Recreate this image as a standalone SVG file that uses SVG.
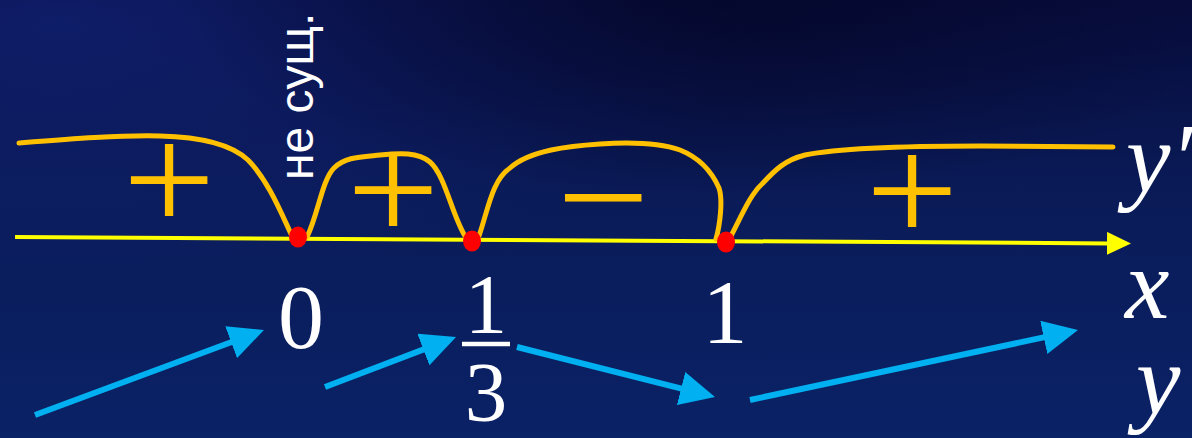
<svg xmlns="http://www.w3.org/2000/svg" width="1192" height="438" viewBox="0 0 1192 438">
  <defs>
    <linearGradient id="bg" x1="0" y1="0" x2="0" y2="1">
      <stop offset="0" stop-color="#070c3c"/>
      <stop offset="0.45" stop-color="#0a1b58"/>
      <stop offset="1" stop-color="#0a2266"/>
    </linearGradient>
    <radialGradient id="glowL" cx="0.05" cy="0.05" r="0.6">
      <stop offset="0" stop-color="#12247a" stop-opacity="0.7"/>
      <stop offset="1" stop-color="#12247a" stop-opacity="0"/>
    </radialGradient>
    <radialGradient id="darkM" cx="0.6" cy="0" r="0.45">
      <stop offset="0" stop-color="#040626" stop-opacity="0.7"/>
      <stop offset="1" stop-color="#040626" stop-opacity="0"/>
    </radialGradient>
    <marker id="blueHead" markerUnits="userSpaceOnUse" markerWidth="35" markerHeight="34" viewBox="0 0 35 34" refX="25" refY="17" orient="auto">
      <path d="M0,0 L35,17 L0,34 z" fill="#00B0F0"/>
    </marker>
    <marker id="axisHead" markerUnits="userSpaceOnUse" markerWidth="24" markerHeight="23" viewBox="0 0 24 23" refX="3" refY="11.5" orient="auto">
      <path d="M0,0 L24,11.5 L0,23 z" fill="#FFFF00"/>
    </marker>
    <style>
      .curve { fill: none; stroke: #FFC000; stroke-width: 5; stroke-linecap: round; stroke-linejoin: round; }
      .sign { font-family: "Liberation Serif", "Times New Roman", serif; font-size: 155px; fill: #FFC000; text-anchor: middle; }
      .num { font-family: "Liberation Serif", "Times New Roman", serif; fill: #FFFFFF; text-anchor: middle; }
      .var { font-family: "Liberation Serif", "Times New Roman", serif; font-style: italic; font-size: 100px; fill: #FFFFFF; }
      .note { font-family: "Liberation Sans", Arial, sans-serif; font-size: 48px; fill: #FFFFFF; }
      .arrow { fill: none; stroke: #00B0F0; stroke-width: 6; marker-end: url(#blueHead); }
      .dot { fill: #FF0000; }
    </style>
  </defs>

  <g id="background">
    <rect x="0" y="0" width="1192" height="438" fill="url(#bg)"/>
    <rect x="0" y="0" width="1192" height="438" fill="url(#glowL)"/>
    <rect x="0" y="0" width="1192" height="438" fill="url(#darkM)"/>
  </g>

  <g id="axis">
    <line x1="15" y1="237" x2="1110" y2="243.4" stroke="#FFFF00" stroke-width="4" marker-end="url(#axisHead)"/>
  </g>

  <g id="sign-curve">
    <path class="curve" d="M19,143 C70,139 120,135 160,136 C205,137 232,145 248,160 C268,180 282,215 292,236"/>
    <path class="curve" d="M307,237 C318,215 322,180 334,168 C345,157 360,157 380,155 C400,153 418,152 430,162 C445,175 452,215 465,236"/>
    <path class="curve" d="M479,236 C488,210 492,180 510,168 C530,150 570,146 600,144 C630,142 660,143 680,150 C700,158 712,172 719,188 C723,200 720,225 716,239"/>
    <path class="curve" d="M731,236 C742,215 750,195 762,184 C775,170 785,160 805,155 C840,148 900,146 980,146 L1113,147"/>
  </g>

  <g id="signs">
    <text class="sign" transform="translate(169,232) scale(1.06,1)">+</text>
    <text class="sign" transform="translate(393,242) scale(1.06,1)">+</text>
    <text class="sign" transform="translate(603,249) scale(1.06,1)">−</text>
    <text class="sign" transform="translate(912,243) scale(1.06,1)">+</text>
  </g>

  <g id="point-0">
    <ellipse class="dot" cx="298" cy="237" rx="9" ry="10.5"/>
    <text class="num" x="301" y="348" font-size="92">0</text>
    <text class="note" transform="translate(313,180) rotate(-90)">не сущ.</text>
  </g>

  <g id="point-1-3">
    <ellipse class="dot" cx="472" cy="241" rx="9" ry="10.5"/>
    <text class="num" x="486" y="333" font-size="85">1</text>
    <line x1="462" y1="344" x2="510" y2="344" stroke="#FFFFFF" stroke-width="4.5"/>
    <text class="num" x="486" y="421" font-size="85">3</text>
  </g>

  <g id="point-1">
    <ellipse class="dot" cx="726" cy="242" rx="9" ry="10.5"/>
    <text class="num" x="725" y="343" font-size="90">1</text>
  </g>

  <g id="labels">
    <text class="var" x="1126" y="192">y′</text>
    <text class="var" x="1125" y="318">x</text>
    <text class="var" x="1136" y="414">y</text>
  </g>

  <g id="connectors">
    <line class="arrow" x1="35" y1="415" x2="254.6" y2="333.5"/>
    <line class="arrow" x1="325" y1="387" x2="446.7" y2="340.6"/>
    <line class="arrow" x1="517" y1="347" x2="705.3" y2="394.6"/>
    <line class="arrow" x1="750" y1="400" x2="1068.2" y2="332.1"/>
  </g>
</svg>
